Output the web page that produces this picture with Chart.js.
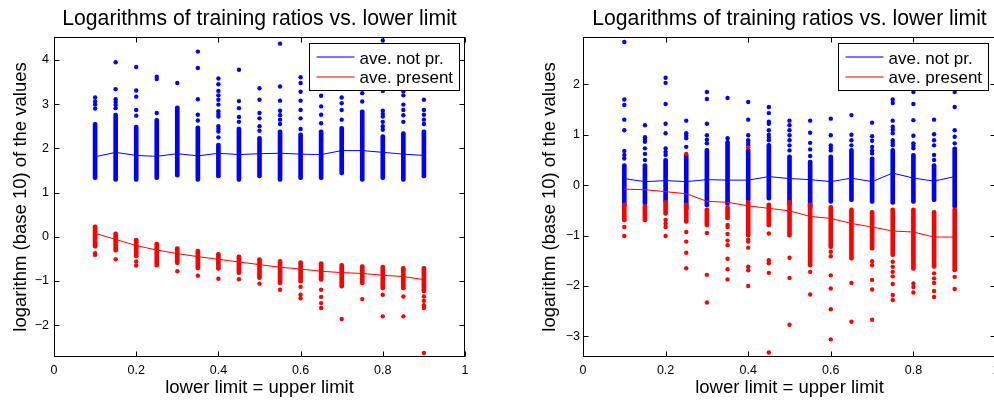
<!DOCTYPE html>
<html>
<head>
<meta charset="utf-8">
<script src="https://cdn.jsdelivr.net/npm/chart.js@4.4.1/dist/chart.umd.min.js"></script>
<style>
  html, body { margin: 0; padding: 0; background: #fff; }
  #wrap { position: relative; width: 994px; height: 400px; overflow: hidden; }
  #left { position: absolute; left: 0; top: 0; }
  #right { position: absolute; left: 497px; top: 0; }
</style>
</head>
<body>
<div id="wrap">
  <canvas id="left" width="497" height="400"></canvas>
  <canvas id="right" width="520" height="400"></canvas>
</div>
<script>
// lower limit values (one column of dots per value)
const xs = [0.1, 0.15, 0.2, 0.25, 0.3, 0.35, 0.4, 0.45, 0.5, 0.55, 0.6, 0.65, 0.7, 0.75, 0.8, 0.85, 0.9];

const TITLE = 'Logarithms of training ratios vs. lower limit';
const X_TITLE = 'lower limit = upper limit';
const Y_TITLE = 'logarithm (base 10) of the values';
const LABEL_BLUE = 'ave. not pr.';
const LABEL_RED = 'ave. present';

// ---- left panel ----
const leftBlueAvg = [1.81, 1.91, 1.84, 1.82, 1.88, 1.83, 1.89, 1.86, 1.88, 1.89, 1.87, 1.86, 1.95, 1.95, 1.91, 1.87, 1.84];
const leftBlueLo = [1.29, 1.25, 1.25, 1.29, 1.35, 1.25, 1.33, 1.25, 1.33, 1.25, 1.29, 1.29, 1.40, 1.25, 1.29, 1.25, 1.33];
const leftBlueHi = [2.59, 2.80, 2.53, 2.68, 2.96, 2.51, 2.12, 2.48, 2.27, 2.42, 2.35, 2.42, 2.50, 2.87, 2.31, 2.38, 2.42];
const leftBlueOut = [
  [3.15, 3.06, 2.99, 2.9],
  [3.95, 3.34, 3.11, 3.05, 2.98, 2.91],
  [3.84, 3.31, 3.17, 2.87, 2.74],
  [3.62, 3.57, 2.8],
  [3.48],
  [4.19, 3.82, 3.11, 2.76, 2.63],
  [3.58, 3.45, 3.3, 3.2, 3.1, 2.99, 2.84, 2.78, 2.72, 2.5, 2.44, 2.38, 2.25],
  [3.78, 3.07, 2.91, 2.71, 2.6],
  [3.36, 3.1, 2.8, 2.68, 2.5, 2.4],
  [4.37, 3.4, 3.08, 2.85, 2.75, 2.65, 2.55],
  [3.61, 3.48, 3.28, 3.08, 2.87, 2.68, 2.44],
  [3.19, 2.95, 2.76, 2.57],
  [3.15, 3.02, 2.87, 2.65],
  [3.25, 3.06],
  [4.44, 3.3, 2.85, 2.78, 2.72, 2.6, 2.5, 2.42],
  [3.29, 3.2, 2.99, 2.87, 2.75, 2.6],
  [3.1, 2.87, 2.76, 2.65, 2.55]
];
const leftRedAvg = [0.08, -0.06, -0.2, -0.3, -0.38, -0.45, -0.51, -0.57, -0.63, -0.69, -0.73, -0.78, -0.81, -0.83, -0.87, -0.9, -0.97];
const leftRedHi = [0.27, 0.11, -0.03, -0.12, -0.22, -0.28, -0.35, -0.41, -0.47, -0.51, -0.54, -0.56, -0.6, -0.63, -0.64, -0.67, -0.67];
const leftRedLo = [-0.26, -0.35, -0.48, -0.69, -0.63, -0.75, -0.76, -0.86, -0.97, -1.09, -1.05, -1.01, -1.16, -1.09, -1.2, -1.2, -1.27];
const leftRedOut = [
  [-0.37, -0.41],
  [-0.51],
  [-0.56, -0.65],
  [],
  [-0.78],
  [-0.88],
  [-0.95],
  [-0.96],
  [-1.06],
  [-1.2],
  [-1.13, -1.31, -1.39],
  [-1.2, -1.36, -1.5, -1.61],
  [-1.86],
  [-1.41],
  [-1.31, -1.8],
  [-1.35, -1.8],
  [-1.35, -1.45, -1.55, -1.61, -2.63]
];

// ---- right panel ----
const rightBlueAvg = [0.13, 0.07, 0.09, 0.07, 0.11, 0.1, 0.1, 0.17, 0.13, 0.11, 0.07, 0.14, 0.07, 0.24, 0.14, 0.08, 0.17];
const rightBlueHi = [0.43, 0.43, 0.53, 0.62, 0.73, 0.89, 0.73, 0.83, 0.6, 0.5, 0.6, 0.73, 0.56, 0.73, 0.63, 0.43, 0.76];
const rightBlueLo = [-0.43, -0.4, -0.36, -0.5, -0.43, -0.4, -0.33, -0.3, -0.4, -0.46, -0.36, -0.33, -0.36, -0.38, -0.36, -0.33, -0.46];
const rightBlueOut = [
  [2.84, 1.7, 1.59, 1.3, 1.09, 0.68, 0.6, 0.53],
  [1.19, 0.95, 0.9, 0.86, 0.73, 0.62, 0.5],
  [2.13, 2.03, 1.61, 1.22, 1.03, 0.73, 0.66, 0.6],
  [1.28, 1.03, 0.98, 0.93, 0.76],
  [1.85, 1.71, 1.22, 0.99, 0.9, 0.83],
  [1.73, 0.93],
  [1.65, 1.3, 0.99, 0.89, 0.84, 0.79],
  [1.55, 1.43, 1.26, 1.22, 1.09, 1.0, 0.94, 0.89],
  [1.28, 1.19, 1.09, 0.99, 0.89, 0.79, 0.69],
  [1.28, 1.04, 0.84, 0.71, 0.58],
  [1.32, 0.99, 0.79, 0.74, 0.69],
  [1.39, 1.0, 0.89, 0.79],
  [1.24, 0.97, 0.88, 0.76, 0.69, 0.63],
  [1.7, 1.63, 1.28, 1.16, 1.1, 1.03, 0.89, 0.84, 0.79],
  [1.85, 1.61, 1.29, 0.98, 0.83, 0.78, 0.73],
  [1.3, 1.01, 0.89, 0.79, 0.6, 0.5],
  [1.85, 1.55, 1.09, 0.96, 0.83]
];
const rightRedAvg = [-0.08, -0.09, -0.13, -0.17, -0.32, -0.34, -0.41, -0.46, -0.51, -0.62, -0.66, -0.76, -0.83, -0.91, -0.93, -1.03, -1.03];
const rightRedHi = [-0.35, -0.38, -0.3, -0.35, -0.45, -0.4, -0.3, -0.35, -0.3, -0.35, -0.4, -0.45, -0.5, -0.45, -0.45, -0.5, -0.45];
const rightRedLo = [-0.73, -0.73, -0.6, -0.76, -0.83, -0.69, -1.03, -0.83, -1.03, -1.62, -1.26, -1.49, -1.29, -1.42, -1.69, -1.65, -1.72];
const rightRedOut = [
  [-0.83, -1.01],
  [],
  [-0.69, -0.76, -0.83, -1.01],
  [0.62, -0.93, -1.12, -1.34, -1.65],
  [-0.95, -1.78, -2.33],
  [-0.79, -0.83, -0.97, -1.1, -1.19, -1.46, -1.67, -1.87],
  [0.75, -1.08, -1.12, -1.24, -1.62, -1.69, -2.0],
  [-0.96, -1.49, -1.55, -1.74, -3.32],
  [-1.44, -1.84, -2.77],
  [-1.72, -2.17],
  [-1.32, -1.41, -1.79, -2.05, -2.46, -3.06],
  [-1.94, -2.71],
  [-1.51, -1.59, -1.88, -2.07, -2.67],
  [-1.52, -1.62, -1.72, -1.81, -1.96, -2.18, -2.28],
  [-1.95, -2.02, -2.13],
  [-1.75, -1.85, -1.94, -2.1, -2.22],
  [-1.82, -2.06]
];

const BLUE = '#0000ff';
const RED = '#ff0000';
const FONT = '"Liberation Sans", Arial, Helvetica, sans-serif';

function flatten(out) {
  const pts = [];
  out.forEach((col, i) => col.forEach(y => pts.push({ x: xs[i], y: y })));
  return pts;
}

function columns(lo, hi) {
  return xs.map((x, i) => ({ x: x, y: [lo[i], hi[i]] }));
}

// MATLAB-style box: frame, inward ticks, titles and legend
const matlabFrame = {
  id: 'matlabFrame',
  afterDraw(chart, args, opts) {
    const ctx = chart.ctx;
    const a = chart.chartArea;
    const xS = chart.scales.x, yS = chart.scales.y;
    const L = Math.round(a.left) + 0.5, R = Math.round(a.right) - 0.5;
    const T = Math.round(a.top) + 0.5, B = Math.round(a.bottom) - 0.5;
    ctx.save();
    ctx.strokeStyle = '#000';
    ctx.lineWidth = 1;
    ctx.strokeRect(L, T, R - L, B - T);
    ctx.beginPath();
    xS.ticks.forEach(t => {
      const px = Math.round(xS.getPixelForValue(t.value)) + 0.5;
      ctx.moveTo(px, B); ctx.lineTo(px, B - 5);
      ctx.moveTo(px, T); ctx.lineTo(px, T + 5);
    });
    yS.ticks.forEach(t => {
      const py = Math.round(yS.getPixelForValue(t.value)) + 0.5;
      ctx.moveTo(L, py); ctx.lineTo(L + 5, py);
      ctx.moveTo(R, py); ctx.lineTo(R - 5, py);
    });
    ctx.stroke();

    const cx = (a.left + a.right) / 2;
    ctx.fillStyle = '#000';
    ctx.textAlign = 'center';
    ctx.textBaseline = 'alphabetic';
    ctx.font = '21.2px ' + FONT;
    ctx.fillText(TITLE, cx, 25);
    ctx.font = '18.5px ' + FONT;
    ctx.fillText(X_TITLE, cx, 393);
    ctx.save();
    ctx.translate(opts.yTitleX, (a.top + a.bottom) / 2);
    ctx.rotate(-Math.PI / 2);
    ctx.fillText(Y_TITLE, 0, 0);
    ctx.restore();

    // legend box
    const items = chart.data.datasets.filter(d => d.isAverage);
    const bw = 150, bh = 47;
    const bx = Math.round(a.right - opts.legendInset - bw) + 0.5;
    const by = Math.round(a.top + 6) + 0.5;
    ctx.fillStyle = '#fff';
    ctx.fillRect(bx, by, bw, bh);
    ctx.strokeStyle = '#000';
    ctx.strokeRect(bx, by, bw, bh);
    ctx.font = '17px ' + FONT;
    ctx.textAlign = 'left';
    items.forEach((d, i) => {
      const ly = by + 13.5 + i * 20;
      ctx.strokeStyle = d.borderColor;
      ctx.globalAlpha = 0.7;
      ctx.lineWidth = 1.5;
      ctx.beginPath();
      ctx.moveTo(bx + 7, ly);
      ctx.lineTo(bx + 45, ly);
      ctx.stroke();
      ctx.globalAlpha = 1;
      ctx.fillStyle = '#000';
      ctx.fillText(d.label, bx + 50, by + 20 + i * 19.5);
    });
    ctx.restore();
  }
};

function buildPanel(canvasId, p) {
  const datasets = [
    {
      type: 'line', label: LABEL_BLUE, isAverage: true,
      data: xs.map((x, i) => ({ x: x, y: p.blueAvg[i] })),
      borderColor: BLUE, borderWidth: 1, pointRadius: 0, tension: 0, order: 0
    },
    {
      type: 'line', label: LABEL_RED, isAverage: true,
      data: xs.map((x, i) => ({ x: x, y: p.redAvg[i] })),
      borderColor: RED, borderWidth: 1, pointRadius: 0, tension: 0, order: 0
    },
    {
      type: 'line', showLine: false, data: flatten(p.redOut),
      pointRadius: 2.2, pointBorderWidth: 0, pointBackgroundColor: RED, order: 1
    },
    {
      type: 'bar', data: columns(p.redLo, p.redHi),
      backgroundColor: RED, barThickness: 4, borderRadius: 2,
      borderSkipped: false, grouped: false, order: 2
    },
    {
      type: 'line', showLine: false, data: flatten(p.blueOut),
      pointRadius: 2.2, pointBorderWidth: 0, pointBackgroundColor: BLUE, order: 3
    },
    {
      type: 'bar', data: columns(p.blueLo, p.blueHi),
      backgroundColor: BLUE, barThickness: 4, borderRadius: 2,
      borderSkipped: false, grouped: false, order: 4
    }
  ];

  return new Chart(document.getElementById(canvasId), {
    type: 'bar',
    data: { datasets: datasets },
    plugins: [matlabFrame],
    options: {
      responsive: false,
      animation: false,
      events: [],
      layout: { padding: { left: 0, right: p.padRight, top: 37, bottom: 0 } },
      plugins: {
        legend: { display: false },
        tooltip: { enabled: false },
        matlabFrame: { yTitleX: p.yTitleX, legendInset: p.legendInset }
      },
      scales: {
        x: {
          type: 'linear', min: 0, max: 1, offset: false,
          grid: { display: false, drawTicks: false },
          border: { display: false },
          ticks: {
            stepSize: 0.2, maxRotation: 0, padding: 6, color: '#000',
            font: { family: FONT, size: 12.5 },
            callback: v => String(Math.round(v * 10) / 10)
          },
          afterFit: s => { s.height = 43; }
        },
        y: {
          type: 'linear', min: p.yMin, max: p.yMax,
          grid: { display: false, drawTicks: false },
          border: { display: false },
          ticks: {
            stepSize: 1, includeBounds: false, padding: p.yTickPad, color: '#000',
            font: { family: FONT, size: 12.5 },
            callback: v => (v < 0 ? '\u2212' + Math.abs(v) : String(v))
          },
          afterFit: s => { s.width = p.yAxisWidth; }
        }
      }
    }
  });
}

buildPanel('left', {
  blueAvg: leftBlueAvg, blueLo: leftBlueLo, blueHi: leftBlueHi, blueOut: leftBlueOut,
  redAvg: leftRedAvg, redLo: leftRedLo, redHi: leftRedHi, redOut: leftRedOut,
  yMin: -2.72, yMax: 4.52, yAxisWidth: 54, padRight: 32, yTickPad: 5,
  yTitleX: 26, legendInset: 6
});

buildPanel('right', {
  blueAvg: rightBlueAvg, blueLo: rightBlueLo, blueHi: rightBlueHi, blueOut: rightBlueOut,
  redAvg: rightRedAvg, redLo: rightRedLo, redHi: rightRedHi, redOut: rightRedOut,
  yMin: -3.41, yMax: 2.94, yAxisWidth: 86, padRight: 21, yTickPad: 3,
  yTitleX: 58, legendInset: 8
});
</script>
</body>
</html>
